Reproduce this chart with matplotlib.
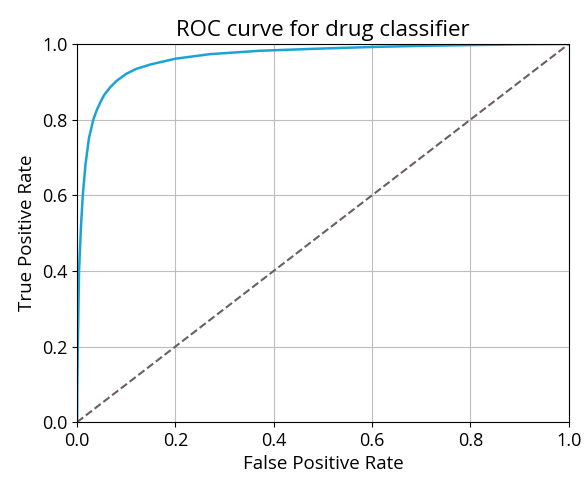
import numpy as np
import matplotlib.pyplot as plt

plt.rcParams['font.family'] = ['Open Sans', 'DejaVu Sans']

# ROC points
fpr = [0, 0.0005, 0.0015, 0.004, 0.008, 0.0116, 0.017, 0.024, 0.033, 0.04, 0.047,
       0.055, 0.067, 0.08, 0.1, 0.12, 0.15, 0.2, 0.27, 0.372, 0.5, 0.6, 0.7, 0.8,
       0.9, 1.0]
tpr = [0, 0.1, 0.2, 0.4, 0.52, 0.6, 0.68, 0.75, 0.8, 0.825, 0.845,
       0.865, 0.885, 0.902, 0.921, 0.934, 0.946, 0.961, 0.973, 0.982, 0.988, 0.992,
       0.995, 0.997, 0.999, 1.0]

fig = plt.figure(figsize=(5.84, 4.83), dpi=100)
ax = fig.add_axes([0.132, 0.126, 0.842, 0.783])
ax.plot(fpr, tpr, color='#1ba3d6', lw=1.8)
ax.plot([0, 1], [0, 1], color='#6a5f63', lw=1.5, ls='--')
ax.set_xlim(0, 1)
ax.set_ylim(0, 1)
ax.grid(True, color='#bdbdbd')
ax.set_title("ROC curve for drug classifier", fontsize=16)
ax.set_xlabel("False Positive Rate", fontsize=13.5)
ax.set_ylabel("True Positive Rate", fontsize=13.5)
ax.tick_params(labelsize=13)
fig.savefig("out.png", dpi=100)
